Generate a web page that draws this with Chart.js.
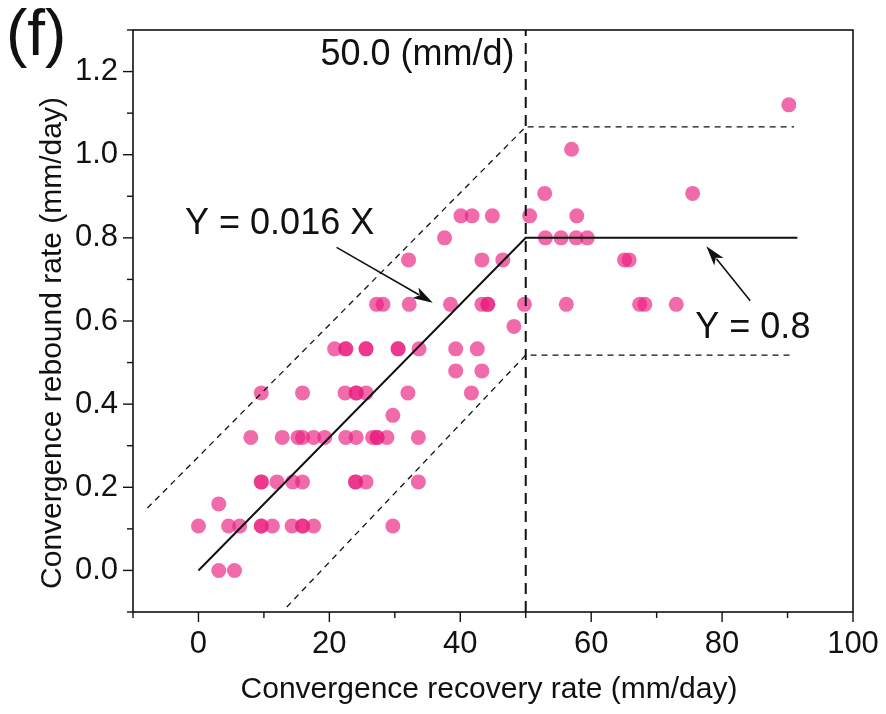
<!DOCTYPE html>
<html>
<head>
<meta charset="utf-8">
<script src="https://cdn.jsdelivr.net/npm/chart.js@4"></script>
<style>
  body { margin: 0; background: #fff; }
  canvas { display: block; }
</style>
</head>
<body>
<canvas id="myChart" width="886" height="714"></canvas>
<script>
// data, one row of rebound values per line
const recoveryRate = [
  3.1, 5.5,
  0, 4.6, 6.3, 9.6, 9.6, 11.3, 14.3, 15.9, 15.9, 17.6, 29.7,
  3.1,
  9.6, 9.6, 12.0, 14.4, 15.9, 24.0, 24.0, 25.6, 33.6,
  8.0, 12.8, 15.2, 15.9, 17.6, 19.3, 22.5, 24.1, 26.6, 27.3, 27.3, 28.8, 33.6,
  29.7,
  9.6, 15.9, 22.4, 24.1, 24.1, 25.6, 32.0, 41.7,
  39.3, 43.3,
  20.8, 22.5, 22.5, 25.6, 25.6, 30.5, 30.5, 33.7, 39.3, 42.6,
  48.2,
  27.2, 28.2, 32.2, 38.5, 43.3, 44.2, 44.2, 49.8, 56.2, 67.4, 68.2, 73.0,
  32.1, 43.3, 46.5, 65.1, 65.8,
  37.6, 53.0, 55.4, 57.7, 59.4,
  40.1, 41.8, 44.9, 50.6, 57.8,
  52.9, 75.5,
  57.0,
  90.2
];
const reboundRate = [
  0, 0,
  0.107, 0.107, 0.107, 0.107, 0.107, 0.107, 0.107, 0.107, 0.107, 0.107, 0.107,
  0.16,
  0.213, 0.213, 0.213, 0.213, 0.213, 0.213, 0.213, 0.213, 0.213,
  0.32, 0.32, 0.32, 0.32, 0.32, 0.32, 0.32, 0.32, 0.32, 0.32, 0.32, 0.32, 0.32,
  0.373,
  0.427, 0.427, 0.427, 0.427, 0.427, 0.427, 0.427, 0.427,
  0.48, 0.48,
  0.533, 0.533, 0.533, 0.533, 0.533, 0.533, 0.533, 0.533, 0.533, 0.533,
  0.587,
  0.64, 0.64, 0.64, 0.64, 0.64, 0.64, 0.64, 0.64, 0.64, 0.64, 0.64, 0.64,
  0.747, 0.747, 0.747, 0.747, 0.747,
  0.8, 0.8, 0.8, 0.8, 0.8,
  0.853, 0.853, 0.853, 0.853, 0.853,
  0.907, 0.907,
  1.013,
  1.12
];

// fitted line and envelope
const fitX = [0, 50, 91.5];
const fitY = [0, 0.8, 0.8];
const upperX = [-7.8, 50, 91];
const upperY = [0.15, 1.067, 1.067];
const lowerX = [13.5, 50, 91];
const lowerY = [-0.088, 0.518, 0.518];
const thresholdX = [50, 50];
const thresholdY = [-0.1, 1.3];

const xTickLabels = [0, 20, 40, 60, 80, 100];
const yTickLabels = [0, 0.2, 0.4, 0.6, 0.8, 1.0, 1.2];

const FONT = '"Liberation Sans", Arial, Helvetica, sans-serif';

function pts(xs, ys) {
  return xs.map((x, i) => ({ x: x, y: ys[i] }));
}

function arrow(ctx, x1, y1, x2, y2) {
  const a = Math.atan2(y2 - y1, x2 - x1);
  const len = 20, half = 6;
  ctx.beginPath();
  ctx.moveTo(x1, y1);
  ctx.lineTo(x2 - Math.cos(a) * len * 0.8, y2 - Math.sin(a) * len * 0.8);
  ctx.stroke();
  ctx.beginPath();
  ctx.moveTo(x2, y2);
  ctx.lineTo(x2 - Math.cos(a) * len + Math.sin(a) * half, y2 - Math.sin(a) * len - Math.cos(a) * half);
  ctx.lineTo(x2 - Math.cos(a) * len * 0.75, y2 - Math.sin(a) * len * 0.75);
  ctx.lineTo(x2 - Math.cos(a) * len - Math.sin(a) * half, y2 - Math.sin(a) * len + Math.cos(a) * half);
  ctx.closePath();
  ctx.fill();
}

//frame, ticks, titles and notes
const extras = {
  id: 'extras',
  afterDraw(chart) {
    const ctx = chart.ctx;
    const xs = chart.scales.x, ys = chart.scales.y;
    const area = chart.chartArea;
    ctx.save();
    ctx.strokeStyle = '#111';
    ctx.fillStyle = '#111';
    ctx.lineWidth = 1.6;
    ctx.strokeRect(area.left, area.top, area.right - area.left, area.bottom - area.top);

    // ticks, major every 20 / 0.2, minor between
    ctx.lineWidth = 1.4;
    for (let v = -10; v <= 100; v += 10) {
      const px = xs.getPixelForValue(v);
      const len = v % 20 === 0 ? 10 : 6;
      ctx.beginPath();
      ctx.moveTo(px, area.bottom);
      ctx.lineTo(px, area.bottom + len);
      ctx.stroke();
    }
    for (let k = -1; k <= 13; k++) {
      const py = ys.getPixelForValue(k / 10);
      const len = (k % 2 === 0) ? 10 : 6;
      ctx.beginPath();
      ctx.moveTo(area.left, py);
      ctx.lineTo(area.left - len, py);
      ctx.stroke();
    }

    // axis titles
    ctx.font = '30px ' + FONT;
    ctx.textAlign = 'center';
    ctx.textBaseline = 'middle';
    ctx.fillText('Convergence recovery rate (mm/day)', 489, 690);
    ctx.save();
    ctx.translate(53, 343);
    ctx.rotate(-Math.PI / 2);
    ctx.fillText('Convergence rebound rate (mm/day)', 0, 0);
    ctx.restore();

    // panel letter
    ctx.font = '64px ' + FONT;
    ctx.textAlign = 'left';
    ctx.fillText('(f)', 6, 37);

    // equations and threshold note
    ctx.font = '36px ' + FONT;
    ctx.textAlign = 'center';
    ctx.fillText('Y = 0.016 X', xs.getPixelForValue(12.4), ys.getPixelForValue(0.833));
    ctx.fillText('Y = 0.8', xs.getPixelForValue(84.7), ys.getPixelForValue(0.583));
    ctx.textAlign = 'right';
    ctx.fillText('50.0 (mm/d)', xs.getPixelForValue(48.3), ys.getPixelForValue(1.24));

    ctx.lineWidth = 1.6;
    arrow(ctx, xs.getPixelForValue(21.1), ys.getPixelForValue(0.777),
               xs.getPixelForValue(35.8), ys.getPixelForValue(0.644));
    arrow(ctx, xs.getPixelForValue(84.3), ys.getPixelForValue(0.649),
               xs.getPixelForValue(77.6), ys.getPixelForValue(0.78));
    ctx.restore();
  }
};

const data = {
  datasets: [
    {
      label: 'envelope upper',
      type: 'line',
      data: pts(upperX, upperY),
      borderColor: '#111',
      borderWidth: 1.3,
      borderDash: [6, 5],
      pointRadius: 0,
      fill: false,
      order: 2
    },
    {
      label: 'envelope lower',
      type: 'line',
      data: pts(lowerX, lowerY),
      borderColor: '#111',
      borderWidth: 1.3,
      borderDash: [6, 5],
      pointRadius: 0,
      fill: false,
      order: 2
    },
    {
      label: 'threshold',
      type: 'line',
      data: pts(thresholdX, thresholdY),
      borderColor: '#111',
      borderWidth: 2,
      borderDash: [11, 7],
      pointRadius: 0,
      fill: false,
      order: 2
    },
    {
      label: 'measured',
      data: pts(recoveryRate, reboundRate),
      backgroundColor: 'rgba(233, 30, 128, 0.66)',
      borderWidth: 0,
      pointRadius: 7.5,
      order: 3
    },
    {
      label: 'fit',
      type: 'line',
      data: pts(fitX, fitY),
      borderColor: '#111',
      borderWidth: 2,
      pointRadius: 0,
      fill: false,
      order: 1
    }
  ]
};

const config = {
  type: 'scatter',
  data: data,
  options: {
    responsive: false,
    animation: false,
    devicePixelRatio: 1,
    layout: { padding: { top: 30, right: 33, left: 0, bottom: 0 } },
    plugins: {
      legend: { display: false },
      tooltip: { enabled: false }
    },
    scales: {
      x: {
        type: 'linear',
        min: -10,
        max: 100,
        grid: { display: false, drawTicks: false },
        border: { display: false },
        ticks: {
          stepSize: 10,
          padding: 14,
          color: '#111',
          font: { family: FONT, size: 31 },
          maxRotation: 0,
          autoSkip: false,
          callback: (v) => xTickLabels.includes(v) ? String(v) : ''
        },
        afterFit: (s) => { s.height = 102; s.paddingLeft = 0; s.paddingRight = 0; }
      },
      y: {
        type: 'linear',
        min: -0.1,
        max: 1.3,
        grid: { display: false, drawTicks: false },
        border: { display: false },
        ticks: {
          stepSize: 0.1,
          padding: 15,
          color: '#111',
          font: { family: FONT, size: 31 },
          autoSkip: false,
          callback: (v) => {
            const r = Math.round(v * 10) / 10;
            return yTickLabels.some(t => Math.abs(t - r) < 1e-6) ? r.toFixed(1) : '';
          }
        },
        afterFit: (s) => { s.width = 133; s.paddingTop = 0; s.paddingBottom = 0; }
      }
    }
  },
  plugins: [extras]
};

const myChart = new Chart(document.getElementById('myChart'), config);
</script>
</body>
</html>
